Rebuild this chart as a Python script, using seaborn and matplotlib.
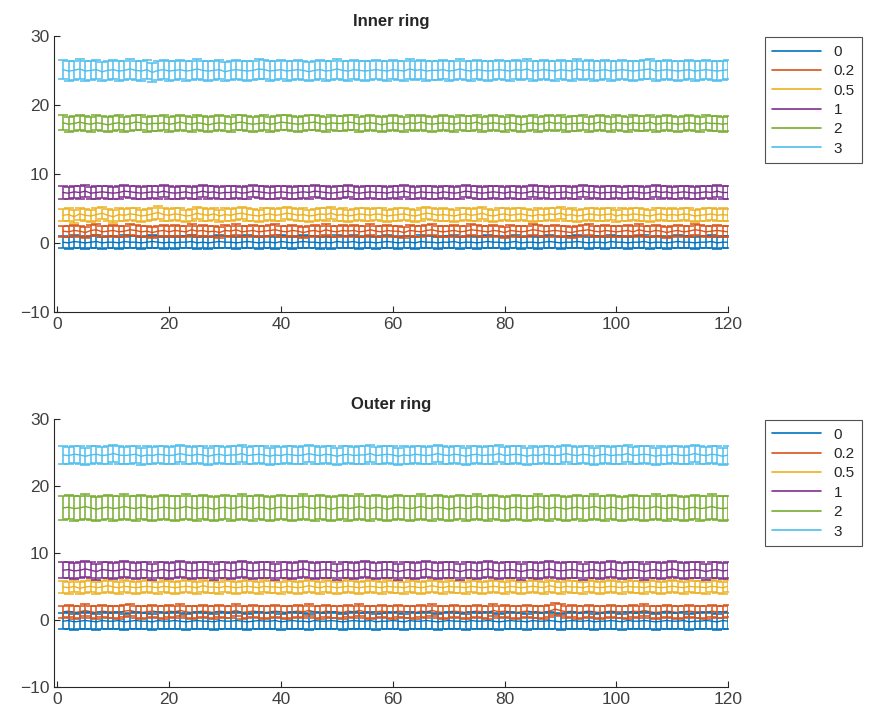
import numpy as np
import pandas as pd
import seaborn as sns
import matplotlib
matplotlib.use("Agg")
import matplotlib.pyplot as plt

# levels shown in the legend and the default matlab colour order
levels = ["0", "0.2", "0.5", "1", "2", "3"]
colors = ["#0072BD", "#D95319", "#EDB120", "#7E2F8E", "#77AC30", "#4DBEEE"]
t = list(range(1, 121))

# Inner ring means, one list per level
inner_0 = [0.1,0.0,0.2,0.1,0.0,0.1,0.2,0.0,0.1,0.1,0.0,0.2,0.1,0.1,0.0,0.1,0.2,0.1,0.0,0.1,
           0.0,0.1,0.1,0.2,0.0,0.1,0.0,0.1,0.2,0.1,0.1,0.0,0.1,0.2,0.1,0.0,0.1,0.1,0.0,0.2,
           0.1,0.0,0.1,0.2,0.1,0.1,0.0,0.1,0.0,0.2,0.1,0.1,0.2,0.0,0.1,0.1,0.0,0.1,0.2,0.1,
           0.0,0.1,0.1,0.0,0.2,0.1,0.1,0.0,0.1,0.1,0.2,0.0,0.1,0.1,0.0,0.1,0.2,0.1,0.1,0.0,
           0.1,0.2,0.0,0.1,0.1,0.0,0.1,0.2,0.1,0.0,0.1,0.1,0.2,0.1,0.0,0.1,0.1,0.0,0.2,0.1,
           0.1,0.0,0.1,0.1,0.2,0.0,0.1,0.1,0.0,0.1,0.2,0.1,0.1,0.0,0.1,0.1,0.2,0.0,0.1,0.1]
inner_02 = [1.7,1.6,1.8,1.7,1.5,1.8,1.9,1.6,1.7,1.8,1.6,1.7,1.9,1.8,1.6,1.7,1.5,1.7,1.8,1.6,
            1.8,1.7,1.6,1.9,1.7,1.8,1.6,1.7,1.5,1.8,1.7,1.9,1.6,1.7,1.8,1.6,1.7,1.8,1.9,1.7,
            1.6,1.8,1.7,1.5,1.7,1.8,1.6,1.9,1.7,1.6,1.8,1.7,1.8,1.6,1.7,1.9,1.7,1.6,1.8,1.7,
            1.7,1.5,1.8,1.7,1.6,1.8,1.9,1.7,1.6,1.7,1.8,1.6,1.7,1.9,1.8,1.7,1.6,1.8,1.7,1.5,
            1.8,1.7,1.6,1.7,1.9,1.8,1.6,1.7,1.8,1.7,1.6,1.5,1.7,1.8,1.9,1.7,1.6,1.8,1.7,1.6,
            1.7,1.8,1.6,1.9,1.7,1.6,1.8,1.7,1.5,1.7,1.8,1.6,1.7,1.9,1.8,1.6,1.7,1.8,1.7,1.6]
inner_05 = [4.0,4.1,3.8,4.2,4.0,3.9,4.1,4.3,4.0,3.8,4.1,4.0,4.2,4.1,3.9,4.0,4.2,4.4,4.1,4.0,
            4.2,4.1,3.9,4.0,4.3,4.1,4.0,4.2,3.9,4.1,4.0,4.2,4.3,4.1,4.0,3.9,4.1,4.2,4.0,4.1,
            4.3,4.2,4.0,4.1,3.9,4.0,4.2,4.1,4.3,4.0,4.1,3.9,4.0,4.2,4.1,4.0,4.2,4.1,3.9,4.0,
            4.1,4.2,4.0,3.9,4.1,4.3,4.2,4.0,4.1,4.0,3.9,4.1,4.2,4.0,4.1,4.3,4.0,3.9,4.1,4.2,
            4.0,4.1,4.2,4.0,3.9,4.1,4.0,4.2,4.1,4.3,4.0,4.1,3.9,4.0,4.2,4.1,4.0,4.1,4.2,3.9,
            4.1,4.0,4.2,4.1,4.0,3.9,4.1,4.2,4.0,4.1,4.0,4.2,4.1,3.9,4.0,4.1,4.2,4.0,4.1,4.0]
inner_1 = [7.3,7.2,7.4,7.3,7.5,7.2,7.3,7.4,7.3,7.2,7.3,7.5,7.4,7.3,7.2,7.3,7.4,7.3,7.5,7.3,
           7.2,7.3,7.4,7.2,7.3,7.5,7.3,7.4,7.2,7.3,7.3,7.4,7.2,7.3,7.5,7.4,7.3,7.2,7.3,7.4,
           7.3,7.2,7.3,7.4,7.3,7.5,7.4,7.3,7.2,7.3,7.4,7.5,7.3,7.2,7.3,7.4,7.3,7.3,7.2,7.4,
           7.3,7.5,7.3,7.2,7.4,7.3,7.3,7.2,7.4,7.3,7.2,7.3,7.5,7.4,7.3,7.2,7.3,7.4,7.3,7.2,
           7.4,7.3,7.2,7.3,7.5,7.3,7.4,7.2,7.3,7.3,7.4,7.2,7.3,7.5,7.3,7.4,7.2,7.3,7.3,7.4,
           7.2,7.3,7.4,7.3,7.2,7.3,7.5,7.3,7.4,7.2,7.3,7.4,7.3,7.2,7.3,7.4,7.3,7.5,7.3,7.3]
inner_2 = [17.4,17.2,17.3,17.5,17.3,17.2,17.4,17.3,17.1,17.3,17.4,17.2,17.3,17.5,17.4,17.2,17.3,17.3,17.4,17.2,
           17.3,17.5,17.3,17.2,17.4,17.3,17.1,17.3,17.4,17.3,17.2,17.4,17.5,17.3,17.2,17.3,17.4,17.2,17.3,17.5,
           17.4,17.3,17.2,17.3,17.4,17.5,17.3,17.2,17.4,17.3,17.3,17.5,17.4,17.2,17.3,17.4,17.3,17.1,17.3,17.4,
           17.3,17.2,17.4,17.3,17.5,17.3,17.2,17.3,17.4,17.3,17.2,17.4,17.3,17.3,17.5,17.2,17.3,17.4,17.3,17.2,
           17.4,17.3,17.1,17.3,17.4,17.2,17.3,17.5,17.3,17.4,17.2,17.3,17.3,17.4,17.2,17.3,17.5,17.3,17.2,17.4,
           17.3,17.2,17.4,17.3,17.3,17.5,17.2,17.3,17.4,17.3,17.2,17.3,17.4,17.3,17.2,17.4,17.3,17.3,17.2,17.3]
inner_3 = [25.1,24.9,25.0,25.2,24.9,25.0,25.1,24.8,25.0,25.1,24.9,25.0,25.2,25.0,24.9,25.1,24.7,25.0,25.1,24.9,
           25.0,25.1,24.9,25.0,25.2,25.0,24.9,25.0,25.1,24.8,25.0,25.1,25.0,24.9,25.0,25.2,25.1,24.9,25.0,25.1,
           24.9,25.0,25.1,25.0,24.8,25.0,25.1,24.9,25.0,25.2,25.0,24.9,25.1,25.0,24.9,25.0,25.1,25.0,24.9,25.1,
           25.0,24.9,25.2,25.0,25.1,24.9,25.0,25.0,25.1,24.9,25.0,25.2,25.0,24.9,25.1,25.0,24.9,25.0,25.1,25.0,
           24.9,25.1,25.0,25.2,24.9,25.0,25.1,25.0,24.9,25.1,25.0,24.9,25.2,25.0,25.1,24.9,25.0,25.1,24.9,25.0,
           25.1,25.0,24.9,25.0,25.1,25.2,24.9,25.0,25.1,25.0,24.9,25.0,25.1,24.9,25.0,25.1,25.0,24.9,25.0,25.1]
inner_err = [0.9, 0.8, 0.9, 0.9, 1.1, 1.4]

# Outer ring means
outer_0 = [-0.2,-0.1,-0.3,-0.2,-0.1,-0.2,-0.3,-0.1,-0.2,-0.2,-0.1,-0.3,-0.2,-0.1,-0.2,-0.2,-0.3,-0.1,-0.2,-0.2,
           -0.1,-0.2,-0.3,-0.2,-0.1,-0.2,-0.2,-0.3,-0.1,-0.2,-0.2,-0.1,-0.2,-0.3,-0.2,-0.1,-0.2,-0.2,-0.1,-0.3,
           -0.2,-0.1,-0.2,-0.2,-0.3,-0.1,-0.2,-0.2,-0.1,-0.2,-0.3,-0.2,-0.1,-0.2,-0.2,-0.1,-0.3,-0.2,-0.2,-0.1,
           -0.2,-0.3,-0.1,-0.2,-0.2,-0.1,-0.2,-0.3,-0.2,-0.1,-0.2,-0.2,-0.3,-0.1,-0.2,-0.2,-0.1,-0.2,-0.3,-0.2,
           -0.1,-0.2,-0.2,-0.3,-0.1,-0.2,-0.2,-0.1,-0.2,-0.3,-0.2,-0.1,-0.2,-0.2,-0.1,-0.3,-0.2,-0.2,-0.1,-0.2,
           -0.3,-0.1,-0.2,-0.2,-0.1,-0.2,-0.3,-0.2,-0.1,-0.2,-0.2,-0.1,-0.3,-0.2,-0.2,-0.1,-0.2,-0.3,-0.1,-0.2]
outer_02 = [1.2,1.3,1.1,1.2,1.4,1.2,1.1,1.3,1.2,1.2,1.1,1.3,1.4,1.2,1.1,1.2,1.3,1.2,1.1,1.3,
            1.2,1.4,1.2,1.1,1.2,1.3,1.2,1.1,1.3,1.2,1.2,1.4,1.1,1.2,1.3,1.2,1.1,1.2,1.3,1.2,
            1.1,1.2,1.3,1.2,1.4,1.2,1.1,1.3,1.2,1.2,1.1,1.3,1.2,1.4,1.2,1.1,1.2,1.3,1.2,1.1,
            1.3,1.2,1.2,1.1,1.3,1.2,1.4,1.2,1.1,1.2,1.3,1.2,1.1,1.2,1.3,1.2,1.1,1.4,1.2,1.3,
            1.2,1.1,1.2,1.3,1.2,1.2,1.1,1.3,1.6,1.4,1.2,1.3,1.1,1.2,1.3,1.2,1.1,1.2,1.3,1.2,
            1.2,1.1,1.3,1.2,1.4,1.2,1.1,1.2,1.3,1.2,1.1,1.2,1.3,1.2,1.2,1.1,1.3,1.2,1.2,1.3]
outer_05 = [4.9,4.8,5.0,4.7,4.9,5.0,4.8,4.9,5.1,4.9,4.8,5.0,4.9,4.8,4.9,5.0,4.9,4.8,5.0,4.9,
            4.8,4.9,5.0,4.9,4.8,5.1,4.9,4.9,4.8,5.0,4.9,4.8,4.9,5.0,4.9,4.8,5.0,4.9,4.9,4.8,
            5.0,4.9,4.8,4.9,5.1,4.9,4.8,5.0,4.9,4.8,4.9,5.0,4.9,4.8,4.9,5.0,4.9,4.8,5.0,4.9,
            4.9,4.8,5.0,4.9,4.8,4.9,5.1,4.9,4.8,5.0,4.9,4.9,4.8,5.0,4.9,4.8,4.9,5.0,4.9,4.8,
            5.0,4.9,4.8,4.9,5.0,4.9,4.8,5.1,4.9,4.8,5.0,4.9,4.9,4.8,5.0,4.9,4.8,4.9,5.0,4.9,
            4.8,5.0,4.9,4.9,4.8,5.0,4.9,4.8,4.9,5.0,4.9,4.8,5.0,4.9,4.9,4.8,5.0,4.9,4.8,5.0]
outer_1 = [7.4,7.5,7.3,7.4,7.6,7.4,7.2,7.5,7.4,7.3,7.4,7.6,7.4,7.3,7.5,7.4,7.2,7.4,7.5,7.3,
           7.4,7.6,7.4,7.3,7.4,7.5,7.4,7.2,7.4,7.5,7.3,7.4,7.6,7.4,7.3,7.4,7.5,7.4,7.2,7.4,
           7.5,7.3,7.4,7.6,7.4,7.3,7.4,7.5,7.4,7.2,7.4,7.5,7.3,7.4,7.6,7.4,7.3,7.4,7.5,7.4,
           7.2,7.4,7.5,7.3,7.4,7.6,7.4,7.3,7.4,7.5,7.4,7.2,7.4,7.5,7.3,7.4,7.6,7.4,7.3,7.4,
           7.5,7.4,7.2,7.4,7.5,7.3,7.4,7.6,7.4,7.3,7.4,7.5,7.4,7.2,7.4,7.5,7.3,7.4,7.6,7.4,
           7.3,7.4,7.5,7.4,7.2,7.4,7.5,7.3,7.4,7.6,7.4,7.3,7.4,7.5,7.4,7.2,7.4,7.5,7.3,7.4]
outer_2 = [16.7,16.8,16.6,16.7,16.9,16.7,16.5,16.7,16.8,16.6,16.7,16.9,16.7,16.6,16.8,16.7,16.5,16.7,16.8,16.7,
           16.6,16.7,16.9,16.7,16.6,16.8,16.7,16.5,16.7,16.8,16.6,16.7,16.9,16.7,16.6,16.8,16.7,16.5,16.7,16.8,
           16.7,16.6,16.7,16.9,16.7,16.6,16.8,16.7,16.5,16.7,16.8,16.6,16.7,16.9,16.7,16.6,16.8,16.7,16.5,16.7,
           16.8,16.7,16.6,16.7,16.9,16.7,16.6,16.8,16.7,16.5,16.7,16.8,16.6,16.7,16.9,16.7,16.6,16.8,16.7,16.5,
           16.7,16.8,16.7,16.6,16.7,16.9,16.7,16.6,16.8,16.7,16.5,16.7,16.8,16.6,16.7,16.9,16.7,16.6,16.8,16.7,
           16.5,16.7,16.8,16.7,16.6,16.7,16.9,16.7,16.6,16.8,16.7,16.5,16.7,16.8,16.6,16.7,16.9,16.7,16.6,16.7]
outer_3 = [24.6,24.5,24.7,24.6,24.4,24.6,24.7,24.5,24.6,24.8,24.6,24.5,24.6,24.7,24.4,24.6,24.5,24.7,24.6,24.5,
           24.6,24.8,24.6,24.5,24.7,24.6,24.4,24.6,24.7,24.5,24.6,24.6,24.8,24.5,24.6,24.7,24.6,24.4,24.6,24.5,
           24.7,24.6,24.5,24.6,24.8,24.6,24.5,24.7,24.6,24.4,24.6,24.7,24.5,24.6,24.6,24.8,24.5,24.6,24.7,24.6,
           24.4,24.6,24.5,24.7,24.6,24.5,24.6,24.8,24.6,24.5,24.7,24.6,24.4,24.6,24.7,24.5,24.6,24.6,24.8,24.5,
           24.6,24.7,24.6,24.4,24.6,24.5,24.7,24.6,24.5,24.6,24.8,24.6,24.5,24.7,24.6,24.4,24.6,24.7,24.5,24.6,
           24.6,24.8,24.5,24.6,24.7,24.6,24.4,24.6,24.5,24.7,24.6,24.5,24.6,24.8,24.6,24.5,24.7,24.6,24.4,24.6]
outer_err = [1.2, 0.9, 0.9, 1.2, 1.8, 1.3]

inner = [inner_0, inner_02, inner_05, inner_1, inner_2, inner_3]
outer = [outer_0, outer_02, outer_05, outer_1, outer_2, outer_3]

sns.set_style("ticks")
plt.rcParams["font.family"] = ["Liberation Sans", "DejaVu Sans"]

fig = plt.figure(figsize=(8.78, 7.17), dpi=100)
ax1 = fig.add_axes([0.0615, 0.565, 0.768, 0.385])
ax2 = fig.add_axes([0.0615, 0.042, 0.768, 0.374])


def draw_panel(ax, means, errs, title, legend_top):
    df = pd.DataFrame({
        "t": t * len(levels),
        "value": [v for m in means for v in m],
        "level": [lv for lv in levels for _ in t],
    })
    sns.lineplot(data=df, x="t", y="value", hue="level", hue_order=levels,
                 palette=colors, linewidth=1.0, ax=ax, legend=False)
    for m, e, c in zip(means, errs, colors):
        ax.errorbar(t, m, yerr=e, fmt="none", ecolor=c, elinewidth=1.1,
                    capsize=3.4, capthick=1.1)
    ax.set_xlim(-0.6, 120)
    ax.set_ylim(-10, 30)
    ax.set_xticks(range(0, 121, 20))
    ax.set_yticks([-10, 0, 10, 20, 30])
    ax.tick_params(direction="in", length=4, labelsize=12.5, colors="#262626",
                   labelcolor="#404040")
    for s in ("left", "bottom"):
        ax.spines[s].set_color("#262626")
    ax.set_xlabel("")
    ax.set_ylabel("")
    ax.set_title(title, fontweight="bold", fontsize=12, pad=7)
    sns.despine(ax=ax)
    leg = ax.legend(ax.get_lines()[:6], levels, loc="upper left",
                    bbox_to_anchor=(0.871, legend_top), bbox_transform=fig.transFigure,
                    borderaxespad=0, frameon=True, fancybox=False, edgecolor="#262626",
                    fontsize=11, handlelength=3.2, labelspacing=0.35, borderpad=0.5,
                    handletextpad=0.8)
    leg.get_frame().set_linewidth(0.8)
    for line in leg.get_lines():
        line.set_linewidth(1.2)


draw_panel(ax1, inner, inner_err, "Inner ring", 0.948)
draw_panel(ax2, outer, outer_err, "Outer ring", 0.414)

fig.savefig("out.png", dpi=100)
